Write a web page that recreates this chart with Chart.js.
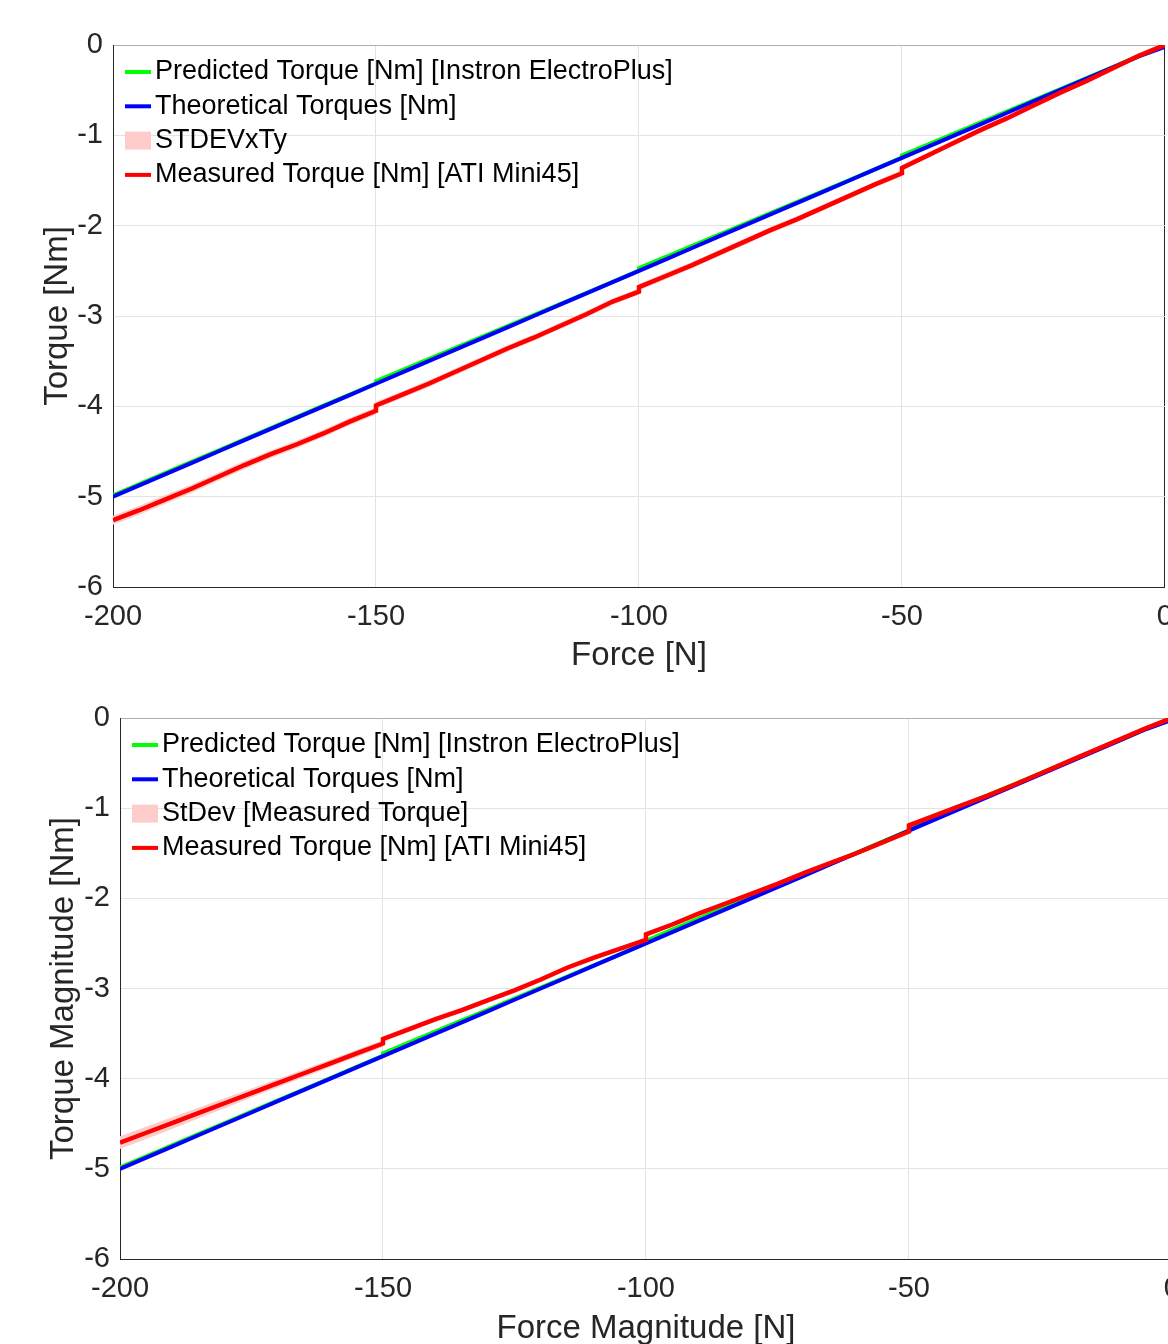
<!DOCTYPE html>
<html>
<head>
<meta charset="utf-8">
<script src="https://cdn.jsdelivr.net/npm/chart.js@4.4.1/dist/chart.umd.min.js"></script>
<style>
  body { margin: 0; background: #fff; overflow: hidden; width: 1168px; height: 1344px; position: relative; }
  canvas { position: absolute; left: 0; }
  #top { top: 0; }
  #bottom { top: 680px; }
</style>
</head>
<body>
<canvas id="top" width="1186" height="680"></canvas>
<canvas id="bottom" width="1193" height="670"></canvas>
<script>
const xTicks = [-200, -150, -100, -50, 0]
const yTicks = [0, -1, -2, -3, -4, -5, -6]

// force values, the jumps at -150 / -100 / -50 repeat the x value
const forces = [-200, -195, -190, -185, -180, -175, -170, -165, -160, -155, -150,
  -150, -145, -140, -135, -130, -125, -120, -115, -110, -105, -100,
  -100, -95, -90, -85, -80, -75, -70, -65, -60, -55, -50,
  -50, -45, -40, -35, -30, -25, -20, -15, -10, -5, 0]

// top plot
const theoreticalTop = [-5, -4.875, -4.75, -4.625, -4.5, -4.375, -4.25, -4.125, -4, -3.875, -3.75,
  -3.75, -3.625, -3.5, -3.375, -3.25, -3.125, -3, -2.875, -2.75, -2.625, -2.5,
  -2.5, -2.375, -2.25, -2.125, -2, -1.875, -1.75, -1.625, -1.5, -1.375, -1.25,
  -1.25, -1.125, -1, -0.875, -0.75, -0.625, -0.5, -0.375, -0.25, -0.125, -0.02]
const predictedTop = [-4.985, -4.862, -4.737, -4.613, -4.489, -4.365, -4.241, -4.117, -3.993, -3.869, -3.745,
  -3.72, -3.598, -3.476, -3.354, -3.233, -3.111, -2.99, -2.868, -2.746, -2.622, -2.497,
  -2.47, -2.348, -2.226, -2.104, -1.983, -1.861, -1.74, -1.618, -1.496, -1.372, -1.247,
  -1.222, -1.1, -0.978, -0.856, -0.735, -0.613, -0.492, -0.37, -0.248, -0.124, 0.0]
const measuredTop = [-5.26, -5.15, -5.03, -4.91, -4.78, -4.65, -4.53, -4.42, -4.30, -4.17, -4.05,
  -3.99, -3.87, -3.75, -3.62, -3.49, -3.36, -3.24, -3.11, -2.98, -2.84, -2.73,
  -2.68, -2.56, -2.44, -2.31, -2.18, -2.05, -1.93, -1.80, -1.67, -1.54, -1.42,
  -1.36, -1.22, -1.08, -0.94, -0.81, -0.67, -0.53, -0.40, -0.26, -0.12, 0.0]
const stdevTop = [0.05, 0.05, 0.048, 0.046, 0.045, 0.044, 0.042, 0.042, 0.04, 0.04, 0.04,
  0.04, 0.038, 0.038, 0.036, 0.036, 0.035, 0.035, 0.035, 0.035, 0.035, 0.035,
  0.035, 0.035, 0.035, 0.034, 0.034, 0.034, 0.033, 0.033, 0.033, 0.033, 0.033,
  0.032, 0.032, 0.031, 0.031, 0.03, 0.03, 0.03, 0.03, 0.03, 0.03, 0.03]

// bottom plot
const theoreticalBottom = [-5, -4.875, -4.75, -4.625, -4.5, -4.375, -4.25, -4.125, -4, -3.875, -3.75,
  -3.75, -3.625, -3.5, -3.375, -3.25, -3.125, -3, -2.875, -2.75, -2.625, -2.5,
  -2.5, -2.375, -2.25, -2.125, -2, -1.875, -1.75, -1.625, -1.5, -1.375, -1.25,
  -1.25, -1.125, -1, -0.875, -0.75, -0.625, -0.5, -0.375, -0.25, -0.125, -0.02]
const predictedBottom = [-4.985, -4.862, -4.737, -4.613, -4.489, -4.365, -4.241, -4.117, -3.993, -3.869, -3.745,
  -3.72, -3.598, -3.476, -3.354, -3.233, -3.111, -2.99, -2.868, -2.746, -2.622, -2.497,
  -2.47, -2.348, -2.226, -2.104, -1.983, -1.861, -1.74, -1.618, -1.496, -1.372, -1.247,
  -1.222, -1.1, -0.978, -0.856, -0.735, -0.613, -0.492, -0.37, -0.248, -0.124, 0.0]
const measuredBottom = [-4.71, -4.60, -4.49, -4.38, -4.27, -4.16, -4.05, -3.94, -3.83, -3.72, -3.61,
  -3.56, -3.45, -3.34, -3.24, -3.13, -3.02, -2.90, -2.77, -2.66, -2.56, -2.46,
  -2.40, -2.29, -2.17, -2.06, -1.95, -1.84, -1.72, -1.61, -1.50, -1.38, -1.26,
  -1.19, -1.08, -0.97, -0.86, -0.74, -0.615, -0.49, -0.365, -0.24, -0.115, 0.0]
const stdevBottom = [0.07, 0.07, 0.065, 0.06, 0.055, 0.05, 0.045, 0.045, 0.04, 0.04, 0.035,
  0.03, 0.03, 0.03, 0.028, 0.028, 0.027, 0.027, 0.026, 0.026, 0.025, 0.025,
  0.025, 0.025, 0.025, 0.025, 0.025, 0.025, 0.025, 0.025, 0.025, 0.025, 0.025,
  0.025, 0.025, 0.025, 0.025, 0.025, 0.025, 0.025, 0.025, 0.025, 0.025, 0.025]

const FONT = "'Liberation Sans', Arial, Helvetica, sans-serif"
const TXT = '#262626'

const pts = (arr) => forces.map((f, i) => ({ x: f, y: arr[i] }))

// legend drawn inside the plot, top left, like matlab "Location northwest"
const insideLegend = {
  id: 'insideLegend',
  afterDraw(chart) {
    const ctx = chart.ctx
    const { left, top } = chart.chartArea
    ctx.save()
    ctx.font = `27px ${FONT}`
    ctx.textBaseline = 'middle'
    let row = 0
    chart.data.datasets.forEach(ds => {
      if (!ds.label) return
      const y = top + 27 + row * 34.3
      const x = left + 12
      if (ds.fill) {
        ctx.fillStyle = ds.backgroundColor
        ctx.fillRect(x, y - 9, 26, 18)
      } else {
        ctx.strokeStyle = ds.borderColor
        ctx.lineWidth = 4
        ctx.beginPath()
        ctx.moveTo(x, y)
        ctx.lineTo(x + 26, y)
        ctx.stroke()
      }
      ctx.fillStyle = '#000'
      ctx.fillText(ds.label, x + 30, y)
      row++
    })
    ctx.restore()
  }
}

function makeDatasets(predicted, theoretical, measured, stdev, bandLabel) {
  return [
    { label: 'Predicted Torque [Nm] [Instron ElectroPlus]', data: pts(predicted), borderColor: '#00ff00', borderWidth: 4, order: 2 },
    { label: 'Theoretical Torques [Nm]', data: pts(theoretical), borderColor: '#0000ff', borderWidth: 4, order: 1 },
    { label: '', data: pts(measured.map((v, i) => v + stdev[i])), borderWidth: 0, borderColor: 'rgba(0,0,0,0)', order: 3 },
    { label: bandLabel, data: pts(measured.map((v, i) => v - stdev[i])), borderWidth: 0, borderColor: 'rgba(0,0,0,0)',
      backgroundColor: '#ffcccc', fill: '-1', order: 3 },
    { label: 'Measured Torque [Nm] [ATI Mini45]', data: pts(measured), borderColor: '#ff0000', borderWidth: 4.5, order: 0 }
  ]
}

function makeChart(id, datasets, xTitle, yTitle, box) {
  const el = document.getElementById(id)
  return new Chart(el, {
    type: 'line',
    data: { datasets },
    options: {
      responsive: false,
      animation: false,
      devicePixelRatio: 1,
      layout: { padding: { top: box.top, right: 10, left: 0, bottom: 0 } },
      elements: { point: { radius: 0 }, line: { tension: 0 } },
      plugins: { legend: { display: false }, tooltip: { enabled: false } },
      scales: {
        x: {
          type: 'linear',
          min: xTicks[0], max: xTicks[xTicks.length - 1],
          afterFit: s => { s.height = box.xh },
          afterBuildTicks: s => { s.ticks = xTicks.map(v => ({ value: v })) },
          ticks: { color: TXT, padding: 13, font: { family: FONT, size: 29 }, maxRotation: 0 },
          grid: { drawTicks: false, color: c => c.tick && c.tick.value === 0 ? '#262626' : '#e3e3e3' },
          border: { color: TXT, width: 1 },
          title: { display: true, text: xTitle, color: TXT, font: { family: FONT, size: 33 }, padding: { top: 0, bottom: box.xtp } }
        },
        y: {
          min: yTicks[yTicks.length - 1], max: yTicks[0],
          afterFit: s => { s.width = box.yw },
          afterBuildTicks: s => { s.ticks = yTicks.slice().reverse().map(v => ({ value: v })) },
          ticks: { color: TXT, padding: 10, font: { family: FONT, size: 29 } },
          grid: { drawTicks: false, color: c => c.tick && c.tick.value === 0 ? '#b0b0b0' : '#e3e3e3' },
          border: { color: TXT, width: 1 },
          title: { display: true, text: yTitle, color: TXT, font: { family: FONT, size: 33 }, padding: { top: box.ytp, bottom: 0 } }
        }
      }
    },
    plugins: [insideLegend]
  })
}

makeChart('top', makeDatasets(predictedTop, theoreticalTop, measuredTop, stdevTop, 'STDEVxTy'),
  'Force [N]', 'Torque [Nm]', { top: 45, xh: 93, yw: 113, xtp: 4, ytp: 38 })

makeChart('bottom', makeDatasets(predictedBottom, theoreticalBottom, measuredBottom, stdevBottom, 'StDev [Measured Torque]'),
  'Force Magnitude [N]', 'Torque Magnitude [Nm]', { top: 38, xh: 91, yw: 120, xtp: 1, ytp: 44 })
</script>
</body>
</html>
